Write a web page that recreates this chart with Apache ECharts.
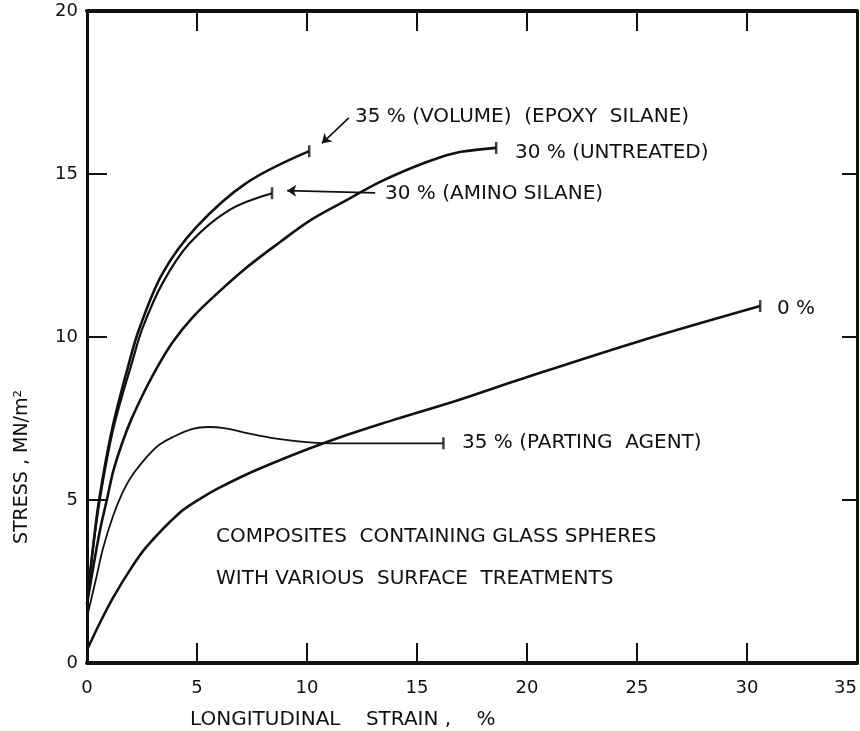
<!DOCTYPE html>
<html><head><meta charset="utf-8">
<script src="https://cdn.jsdelivr.net/npm/echarts@6/dist/echarts.min.js"></script>
<style>html,body{margin:0;padding:0;background:#fff}#c{width:860px;height:731px}</style>
</head><body><div id="c"></div>
<script>
// Axis ranges / ticks
const xMin = 0, xMax = 35, xStep = 5;
const yMin = 0, yMax = 20, yStep = 5;
const xAxisTitle = 'LONGITUDINAL    STRAIN ,    %';
const yAxisTitle = 'STRESS , MN/m²';

// Curves: [strain %, stress MN/m^2]
const epoxySilane35 = [[0,1.8],[0.25,3.4],[0.55,5.0],[1.15,7.2],[1.95,9.3],[2.4,10.3],[3.44,11.96],[4.97,13.37],[7.24,14.72],[10.1,15.7]];
const aminoSilane30 = [[0,1.8],[0.25,3.4],[0.58,5.0],[1.2,7.2],[2.08,9.3],[2.54,10.3],[3.44,11.66],[4.67,12.88],[6.48,13.9],[8.41,14.41]];
const untreated30 = [[0,1.8],[0.3,3.0],[0.6,4.1],[0.9,5.0],[1.2,5.9],[1.6,6.75],[2.0,7.45],[2.7,8.45],[3.3,9.2],[3.9,9.85],[4.8,10.6],[5.7,11.2],[7.2,12.1],[8.75,12.9],[10.2,13.6],[11.8,14.2],[13.3,14.75],[14.8,15.2],[16.0,15.5],[17.0,15.68],[18.6,15.8]];
const partingAgent35 = [[0,1.4],[0.45,2.7],[0.72,3.5],[1.18,4.5],[1.6,5.2],[2.0,5.7],[2.72,6.32],[3.3,6.7],[3.9,6.93],[4.8,7.18],[5.5,7.24],[6.3,7.2],[7.07,7.08],[8.6,6.88],[10.1,6.77],[11.5,6.74],[16.2,6.74]];
const zeroPct = [[0,0.4],[0.6,1.25],[1.2,2.02],[1.95,2.85],[2.7,3.56],[4.2,4.6],[5.1,5.02],[6.0,5.37],[7.8,5.95],[10.9,6.78],[13.9,7.45],[16.9,8.07],[19.6,8.68],[25,9.85],[30.6,10.95]];

// Annotation arrows (data coords: from -> to)
const arrowEpoxy = [[11.9,16.72],[10.68,15.94]];
const arrowAmino = [[13.1,14.42],[9.1,14.49]];

// Annotation texts
const labelEpoxy = '35 % (VOLUME)  (EPOXY  SILANE)';
const labelUntreated = '30 % (UNTREATED)';
const labelAmino = '30 % (AMINO SILANE)';
const labelZero = '0 %';
const labelParting = '35 % (PARTING  AGENT)';
const noteLine1 = 'COMPOSITES  CONTAINING GLASS SPHERES';
const noteLine2 = 'WITH VARIOUS  SURFACE  TREATMENTS';

const FONT = '"DejaVu Sans", "Liberation Sans", sans-serif';
const INK = '#111';

const curves = [
  {name:'35% epoxy silane', data:epoxySilane35, w:2.6},
  {name:'30% amino silane', data:aminoSilane30, w:2.2},
  {name:'30% untreated', data:untreated30, w:2.6},
  {name:'35% parting agent', data:partingAgent35, w:1.8},
  {name:'0%', data:zeroPct, w:2.6}
];

const chart = echarts.init(document.getElementById('c'), null, {renderer:'canvas'});

const axisCommon = {
  type:'value', min:xMin, max:xMax, interval:xStep,
  splitLine:{show:false},
  axisLine:{show:true, onZero:false, lineStyle:{color:INK, width:4}},
  axisTick:{show:true, inside:true, length:20, lineStyle:{color:INK, width:2}}
};
const yCommon = {
  type:'value', min:yMin, max:yMax, interval:yStep,
  splitLine:{show:false},
  axisLine:{show:true, onZero:false, lineStyle:{color:INK, width:3}},
  axisTick:{show:true, inside:true, length:20, lineStyle:{color:INK, width:2}}
};

function txt(text, x, y, size, extra) {
  return Object.assign({
    type:'text', x:x, y:y, silent:true,
    style:{text:text, font: size + 'px ' + FONT, fill:INK, align:'left', verticalAlign:'middle'}
  }, extra || {});
}

const option = {
  animation:false,
  backgroundColor:'#fff',
  grid:{left:87, right:1, top:11, bottom:68},
  xAxis:[
    Object.assign({}, axisCommon, {position:'bottom',
      axisLabel:{show:true, margin:16, fontSize:18, color:INK, fontFamily:FONT, alignMaxLabel:'right'}}),
    Object.assign({}, axisCommon, {position:'top', axisLabel:{show:false}})
  ],
  yAxis:[
    Object.assign({}, yCommon, {position:'left',
      axisLabel:{show:true, margin:9, fontSize:18, color:INK, fontFamily:FONT}}),
    Object.assign({}, yCommon, {position:'right', axisTick:{show:true, inside:true, length:15, lineStyle:{color:INK, width:2}}, axisLabel:{show:false}})
  ],
  series: curves.map(c => ({
    type:'line', name:c.name, data:c.data, smooth:0.35,
    symbol:'none', clip:false, xAxisIndex:0, yAxisIndex:0,
    lineStyle:{color:INK, width:c.w}
  })).concat([
    {type:'scatter', name:'ends', data:curves.map(c => c.data[c.data.length-1]),
     symbol:'rect', symbolSize:[2.5,12], itemStyle:{color:INK}, silent:true},
    {type:'lines', coordinateSystem:'cartesian2d', silent:true,
     symbol:['none','arrow'], symbolSize:9,
     lineStyle:{color:INK, width:1.6, opacity:1},
     data:[{coords:arrowEpoxy},{coords:arrowAmino}]}
  ]),
  graphic:[
    txt(labelEpoxy, 355, 117, 20),
    txt(labelUntreated, 515, 153, 20),
    txt(labelAmino, 385, 194, 20),
    txt(labelZero, 777, 309, 20),
    txt(labelParting, 462, 443, 20),
    txt(noteLine1, 216, 537, 20),
    txt(noteLine2, 216, 579, 20),
    txt(xAxisTitle, 190, 720, 20),
    {type:'text', x:22, y:467, rotation:Math.PI/2, silent:true,
     style:{text:yAxisTitle, font:'19px ' + FONT, fill:INK, align:'center', verticalAlign:'middle'}}
  ]
};
chart.setOption(option);
</script>
</body></html>
